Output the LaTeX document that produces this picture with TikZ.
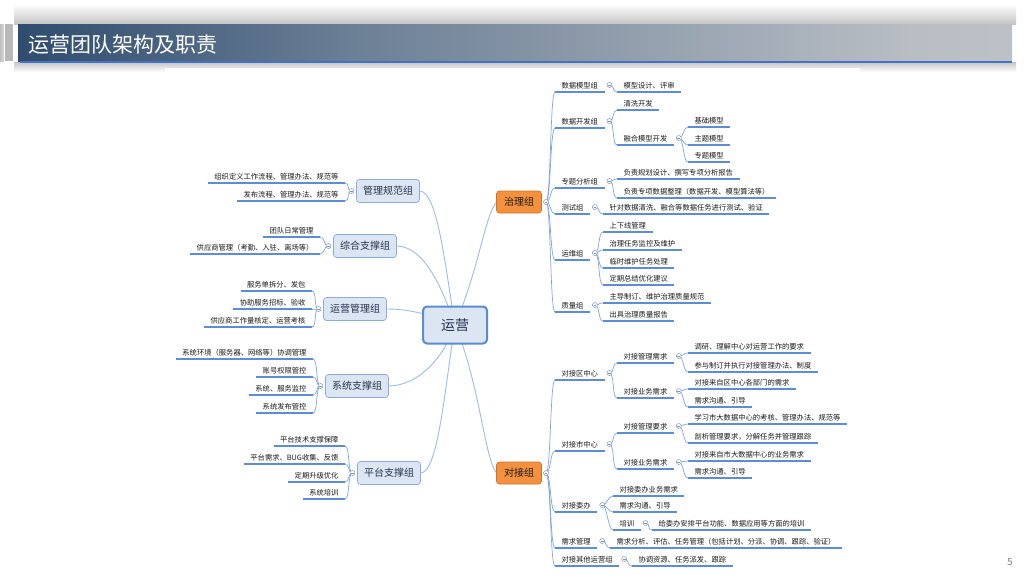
\documentclass[tikz,border=0pt]{standalone}
\usepackage{fontspec}
\setmainfont{Noto Sans CJK SC}
\definecolor{hd1}{HTML}{1D3D62}
\definecolor{hd2}{HTML}{3F5C7C}
\definecolor{hd3}{HTML}{6C8096}
\definecolor{hd4}{HTML}{B9BEC4}
\definecolor{shd}{HTML}{C4C4C4}
\definecolor{hline}{HTML}{4472C4}
\definecolor{grpf}{HTML}{DCE6F2}
\definecolor{grpb}{HTML}{8EAADB}
\definecolor{grpt}{HTML}{243350}
\definecolor{cenb}{HTML}{5B8BD0}
\definecolor{orgf}{HTML}{F3913F}
\definecolor{orgb}{HTML}{D27226}
\definecolor{txt}{HTML}{1A1A1A}
\definecolor{ulc}{HTML}{5B8ED6}
\definecolor{brc}{HTML}{7FA6DC}
\definecolor{clc}{HTML}{9CBCE6}
\definecolor{circc}{HTML}{8096B8}
\pgfdeclarehorizontalshading{hdr}{100bp}{color(0bp)=(hd1); color(20bp)=(hd1); color(42bp)=(hd3); color(70bp)=(hd4); color(100bp)=(hd4!70!white)}
\pgfdeclarelayer{bg}
\pgfdeclarelayer{lines}
\pgfsetlayers{bg,lines,main}
\newcommand{\mLeafL}[4]{\node[leaf,anchor=south east] (#1) at (#2,#3) {#4};}
\newcommand{\mLeafR}[4]{\node[leaf,anchor=south west] (#1) at (#2,#3) {#4};}
\newcommand{\mCirc}[1]{\node[circ] (#1c) at ([shift={(5,-7)}]#1.south east) {};}
\newcommand{\mBrR}[2]{\draw[br] (#1.center) .. controls +(5,0) and +(-5,0) .. (#2.south west);}
\newcommand{\mBrL}[2]{\draw[br] (#1.center) .. controls +(-5,0) and +(5,0) .. (#2.south east);}
\begin{document}
\begin{tikzpicture}[x=1pt,y=-1pt,
  leaf/.style={font=\fontsize{7.3}{8}\selectfont, text=txt, inner xsep=6.5pt, inner ysep=2.5pt, outer sep=0pt,
    append after command={(\tikzlastnode.south west) edge[uline] (\tikzlastnode.south east)}},
  uline/.style={draw=ulc, line width=1.4pt},
  br/.style={draw=brc, line width=0.7pt},
  cl/.style={draw=clc, line width=0.9pt},
  circ/.style={circle, draw=circc, fill=white, inner sep=0pt, minimum size=5pt, line width=0.5pt,
    path picture={\draw[circc, line width=0.5pt] ([xshift=-1.4pt]path picture bounding box.center) -- ([xshift=1.4pt]path picture bounding box.center);}},
  grp/.style={draw=grpb, line width=0.7pt, fill=grpf, rounded corners=3pt, minimum width=63pt, minimum height=23pt,
    font=\fontsize{10}{12}\selectfont, text=grpt, inner sep=0pt, outer sep=0pt},
  org/.style={draw=orgb, line width=0.7pt, fill=orgf, rounded corners=3pt, minimum width=45pt, minimum height=22pt,
    font=\fontsize{10}{12}\selectfont, text=txt, inner sep=0pt, outer sep=0pt},
  cenbox/.style={draw=cenb, line width=2pt, fill=grpf, rounded corners=4pt, minimum width=64pt, minimum height=37pt,
    font=\fontsize{14}{16}\selectfont, text=grpt, inner sep=0pt, outer sep=0pt}
]
\useasboundingbox (0,0) rectangle (1024,576);
\begin{pgfonlayer}{bg}
\fill[white] (0,0) rectangle (1024,576);
\shade[top color=white, bottom color=shd] (14,4) rectangle (1016,24);
\shade[top color=shd, bottom color=white] (14,62) rectangle (1016,72);
\fill[white] (165,68) rectangle (860,572);
\shade[shading=hdr] (18,24) rectangle (1012,61);
\fill[hline] (20,60.5) rectangle (1012,63);
\shade[left color=gray!50, right color=gray!30] (0,24) rectangle (4,61);
\fill[gray!55] (5,24) rectangle (13,61);
\end{pgfonlayer}
\node[anchor=west, text=white, font=\fontsize{21}{24}\selectfont, inner sep=0pt] (title) at (28,45) {运营团队架构及职责};
\node[text=gray, font=\fontsize{10}{12}\selectfont, inner sep=0pt] (pnum) at (1010,562) {5};

% main nodes
\node[cenbox] (c) at (455,325) {运营};
\node[grp] (gm) at (388,191) {管理规范组};
\node[grp] (gz) at (365,246) {综合支撑组};
\node[grp] (gy) at (355,309) {运营管理组};
\node[grp] (gx) at (357,386) {系统支撑组};
\node[grp] (gp) at (389,473) {平台支撑组};
\node[org] (zl) at (519,202) {治理组};
\node[org] (dj) at (519,473) {对接组};
\node[circ] (gmc) at ([xshift=-5pt]gm.west) {};
\node[circ] (gzc) at ([xshift=-5pt]gz.west) {};
\node[circ] (gyc) at ([xshift=-5pt]gy.west) {};
\node[circ] (gxc) at ([xshift=-5pt]gx.west) {};
\node[circ] (gpc) at ([xshift=-5pt]gp.west) {};
\node[circ] (zlc) at ([xshift=4.5pt]zl.east) {};
\node[circ] (djc) at ([xshift=4.5pt]dj.east) {};

% left leaves
\mLeafL{gm1}{345}{183}{组织定义工作流程、管理办法、规范等}
\mLeafL{gm2}{345}{201}{发布流程、管理办法、规范等}
\mLeafL{gz1}{320}{237}{团队日常管理}
\mLeafL{gz2}{320}{254}{供应商管理（考勤、入驻、离场等）}
\mLeafL{gy1}{312}{291}{服务单拆分、发包}
\mLeafL{gy2}{312}{309}{协助服务招标、验收}
\mLeafL{gy3}{312}{327}{供应商工作量核定、运营考核}
\mLeafL{gx1}{313}{359}{系统环境（服务器、网络等）协调管理}
\mLeafL{gx2}{313}{377}{账号权限管控}
\mLeafL{gx3}{313}{395}{系统、服务监控}
\mLeafL{gx4}{313}{413}{系统发布管控}
\mLeafL{gp1}{345}{446}{平台技术支撑保障}
\mLeafL{gp2}{345}{464}{平台需求、BUG收集、反馈}
\mLeafL{gp3}{345}{482}{定期升级优化}
\mLeafL{gp4}{345}{499}{系统培训}

% 治理组
\mLeafR{zA}{555}{92}{数据模型组}
\mLeafR{zB}{555}{128}{数据开发组}
\mLeafR{zC}{555}{188}{专题分析组}
\mLeafR{zD}{555}{214}{测试组}
\mLeafR{zE}{555}{260}{运维组}
\mLeafR{zF}{555}{312}{质量组}
\mLeafR{zA1}{617}{92}{模型设计、评审}
\mLeafR{zB1}{617}{110}{清洗开发}
\mLeafR{zB2}{617}{145}{融合模型开发}
\mLeafR{zB21}{688}{127}{基础模型}
\mLeafR{zB22}{688}{145}{主题模型}
\mLeafR{zB23}{688}{162}{专题模型}
\mLeafR{zC1}{617}{179}{负责规划设计、撰写专项分析报告}
\mLeafR{zC2}{617}{198}{负责专项数据整理（数据开发、模型算法等）}
\mLeafR{zD1}{603}{214}{针对数据清洗、融合等数据任务进行测试、验证}
\mLeafR{zE1}{603}{232}{上下线管理}
\mLeafR{zE2}{603}{250}{治理任务监控及维护}
\mLeafR{zE3}{603}{268}{临时维护任务处理}
\mLeafR{zE4}{603}{285}{定期总结优化建议}
\mLeafR{zF1}{603}{303}{主导制订、维护治理质量规范}
\mLeafR{zF2}{603}{321}{出具治理质量报告}
\mCirc{zA}\mCirc{zB}\mCirc{zB2}\mCirc{zC}\mCirc{zD}\mCirc{zE}\mCirc{zF}

% 对接组
\mLeafR{dA}{555}{380}{对接区中心}
\mLeafR{dB}{555}{451}{对接市中心}
\mLeafR{dC}{555}{512}{对接委办}
\mLeafR{dD}{555}{548}{需求管理}
\mLeafR{dE}{555}{566}{对接其他运营组}
\mLeafR{dA1}{617}{363}{对接管理需求}
\mLeafR{dA2}{617}{398}{对接业务需求}
\mLeafR{dA11}{688}{353}{调研、理解中心对运营工作的要求}
\mLeafR{dA12}{688}{372}{参与制订并执行对接管理办法、制度}
\mLeafR{dA21}{688}{389}{对接来自区中心各部门的需求}
\mLeafR{dA22}{688}{407}{需求沟通、引导}
\mLeafR{dB1}{617}{433}{对接管理要求}
\mLeafR{dB2}{617}{469}{对接业务需求}
\mLeafR{dB11}{688}{424}{学习市大数据中心的考核、管理办法、规范等}
\mLeafR{dB12}{688}{443}{剖析管理要求，分解任务并管理跟踪}
\mLeafR{dB21}{688}{461}{对接来自市大数据中心的业务需求}
\mLeafR{dB22}{688}{478}{需求沟通、引导}
\mLeafR{dC1}{613}{496}{对接委办业务需求}
\mLeafR{dC2}{613}{512}{需求沟通、引导}
\mLeafR{dC3}{613}{530}{培训}
\mLeafR{dC31}{652}{530}{给委办安排平台功能、数据应用等方面的培训}
\mLeafR{dD1}{610}{548}{需求分析、评估、任务管理（包括计划、分派、协调、跟踪、验证）}
\mLeafR{dE1}{632}{566}{协调资源、任务派发、跟踪}
\mCirc{dA}\mCirc{dB}\mCirc{dC}\mCirc{dD}\mCirc{dE}
\mCirc{dA1}\mCirc{dA2}\mCirc{dB1}\mCirc{dB2}\mCirc{dC3}

\begin{pgfonlayer}{lines}
\draw[cl] (gm.east) .. controls +(18,0) and +(-10,-60) .. (c.center);
\draw[cl] (gz.east) .. controls +(28,0) and +(-12,-35) .. (c.center);
\draw[cl] (gy.east) .. controls +(25,0) and +(-25,-10) .. (c.center);
\draw[cl] (gx.east) .. controls +(28,0) and +(-12,35) .. (c.center);
\draw[cl] (gp.east) .. controls +(18,0) and +(-10,60) .. (c.center);
\draw[cl] (c.center) .. controls +(25,-60) and +(-12,15) .. (zl.west);
\draw[cl] (c.center) .. controls +(25,60) and +(-12,-15) .. (dj.west);
% left
\mBrL{gmc}{gm1}\mBrL{gmc}{gm2}
\mBrL{gzc}{gz1}\mBrL{gzc}{gz2}
\mBrL{gyc}{gy1}\mBrL{gyc}{gy2}\mBrL{gyc}{gy3}
\mBrL{gxc}{gx1}\mBrL{gxc}{gx2}\mBrL{gxc}{gx3}\mBrL{gxc}{gx4}
\mBrL{gpc}{gp1}\mBrL{gpc}{gp2}\mBrL{gpc}{gp3}\mBrL{gpc}{gp4}
% right
\mBrR{zlc}{zA}\mBrR{zlc}{zB}\mBrR{zlc}{zC}\mBrR{zlc}{zD}\mBrR{zlc}{zE}\mBrR{zlc}{zF}
\mBrR{zAc}{zA1}
\mBrR{zBc}{zB1}\mBrR{zBc}{zB2}
\mBrR{zB2c}{zB21}\mBrR{zB2c}{zB22}\mBrR{zB2c}{zB23}
\mBrR{zCc}{zC1}\mBrR{zCc}{zC2}
\mBrR{zDc}{zD1}
\mBrR{zEc}{zE1}\mBrR{zEc}{zE2}\mBrR{zEc}{zE3}\mBrR{zEc}{zE4}
\mBrR{zFc}{zF1}\mBrR{zFc}{zF2}
\mBrR{djc}{dA}\mBrR{djc}{dB}\mBrR{djc}{dC}\mBrR{djc}{dD}\mBrR{djc}{dE}
\mBrR{dAc}{dA1}\mBrR{dAc}{dA2}
\mBrR{dA1c}{dA11}\mBrR{dA1c}{dA12}
\mBrR{dA2c}{dA21}\mBrR{dA2c}{dA22}
\mBrR{dBc}{dB1}\mBrR{dBc}{dB2}
\mBrR{dB1c}{dB11}\mBrR{dB1c}{dB12}
\mBrR{dB2c}{dB21}\mBrR{dB2c}{dB22}
\mBrR{dCc}{dC1}\mBrR{dCc}{dC2}\mBrR{dCc}{dC3}
\mBrR{dC3c}{dC31}
\mBrR{dDc}{dD1}
\mBrR{dEc}{dE1}
\end{pgfonlayer}
\end{tikzpicture}
\end{document}
